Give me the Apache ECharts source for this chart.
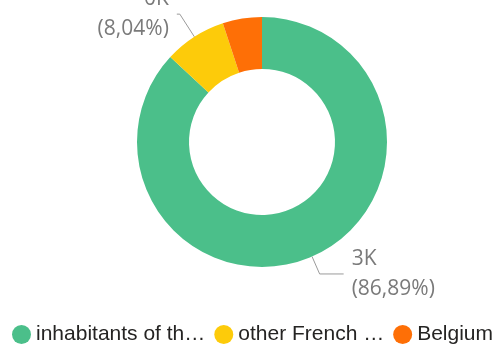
<!DOCTYPE html>
<html>
<head>
<meta charset="utf-8">
<script src="https://cdn.jsdelivr.net/npm/echarts@6/dist/echarts.min.js"></script>
<style>
  html, body { margin: 0; padding: 0; background: #ffffff; }
  #chart { width: 500px; height: 350px; }
</style>
</head>
<body>
<div id="chart"></div>
<script>
const categories = ["inhabitants of the region", "other French regions", "Belgium"];
const values = [3000, 277.6, 175.1];
const legendLabels = ["inhabitants of th\u2026", "other French \u2026", "Belgium"];
const colors = ["#4BBF8A", "#FDCB0A", "#FE6F06"];

const chart = echarts.init(document.getElementById('chart'), null, { renderer: 'canvas' });

const lineCfg = [
  { length: 19, length2: 24, show: true },
  { length: 27, length2: 3, show: true },
  { length: 10, length2: 10, show: false }
];
const labelShow = [true, true, false];

const legendWidths = [172, 161, 90];

const option = {
  animation: false,
  color: colors,
  legend: {
    left: 12,
    top: 324,
    orient: 'horizontal',
    icon: 'circle',
    itemWidth: 19,
    itemHeight: 19,
    itemGap: 9,
    data: categories.map((c, i) => ({
      name: c,
      textStyle: { width: legendWidths[i] }
    })),
    formatter: function (name) {
      return legendLabels[categories.indexOf(name)];
    },
    textStyle: {
      fontFamily: 'Liberation Sans, Arial, sans-serif',
      fontSize: 21,
      color: '#252423',
      padding: [0, 0, 0, 0]
    },
    padding: 0
  },
  series: [{
    type: 'pie',
    center: [262, 142],
    radius: [73, 125],
    startAngle: 90,
    clockwise: true,
    avoidLabelOverlap: false,
    itemStyle: { borderWidth: 0 },
    label: {
      position: 'outside',
      distanceToLabelLine: 8,
      fontFamily: 'Open Sans, Segoe UI, sans-serif',
      fontSize: 21,
      lineHeight: 30,
      color: '#7a7a7a',
      formatter: function (p) {
        return Math.round(p.value / 1000) + 'K\n(' + p.percent.toFixed(2).replace('.', ',') + '%)';
      }
    },
    labelLine: {
      lineStyle: { color: '#9a9a9a', width: 1 }
    },
    emphasis: { disabled: true },
    data: categories.map((c, i) => ({
      name: c,
      value: values[i],
      label: { show: labelShow[i] },
      labelLine: lineCfg[i]
    }))
  }]
};

chart.setOption(option);
</script>
</body>
</html>
